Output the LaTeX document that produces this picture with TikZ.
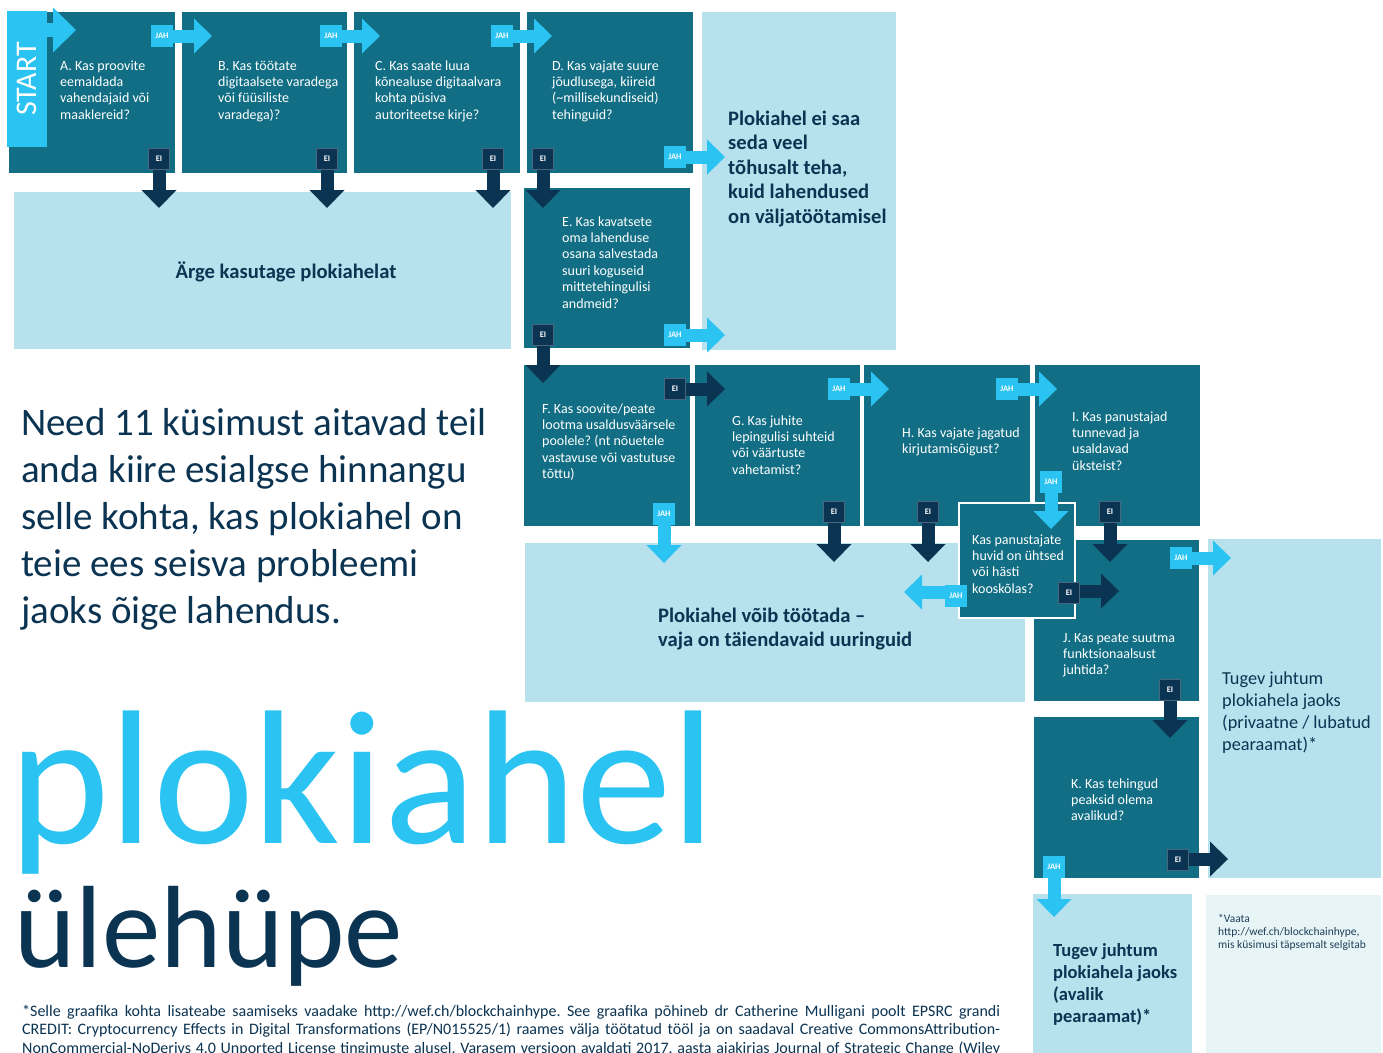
\documentclass[tikz,border=0pt]{standalone}
\usepackage{fontspec}
\setmainfont{Carlito}
\usetikzlibrary{arrows.meta}
\definecolor{cteal}{HTML}{116E84}
\definecolor{clight}{HTML}{B8E1EE}
\definecolor{ccyan}{HTML}{2AC3F2}
\definecolor{cnavy}{HTML}{0B3352}
\definecolor{cpale}{HTML}{E8F5F7}
\newcommand{\qlines}[1]{\parbox[t]{700pt}{\raggedright #1}}
\frenchspacing
\begin{document}
\begin{tikzpicture}[x=1pt,y=-1pt,
  box/.style={anchor=north west, inner sep=0pt, outer sep=0pt},
  qbox/.style={box, fill=cteal},
  obox/.style={box, fill=clight},
  qtext/.style={anchor=base west, inner sep=0pt, text=white, font=\fontsize{14}{16.4}\selectfont},
  otext/.style={anchor=base west, inner sep=0pt, text=cnavy, font=\fontsize{20.6}{24.6}\selectfont\bfseries},
  jah/.style={fill=ccyan, text=white, minimum size=22pt, inner sep=0pt, font=\fontsize{8.5}{9}\selectfont\bfseries},
  ei/.style={fill=cnavy, draw=cnavy!75!white, line width=0.6pt, text=white, minimum size=21pt, inner sep=0pt, font=\fontsize{8.5}{9}\selectfont\bfseries},
  jarr/.style={draw=ccyan, line width=13pt, -{Triangle[width=35pt,length=18pt,line width=0pt]}},
  earr/.style={draw=cnavy, line width=13pt, -{Triangle[width=35pt,length=18pt,line width=0pt]}},
]
\useasboundingbox (0,0) rectangle (1383,1052);
\clip (0,0) rectangle (1383,1052);
\fill[white] (0,0) rectangle (1383,1052);

% ---------- boxes ----------
\node[qbox, minimum width=166pt, minimum height=161pt] (A) at (9,12) {};
\node[qbox, minimum width=165pt, minimum height=161pt] (B) at (182,12) {};
\node[qbox, minimum width=166pt, minimum height=161pt] (C) at (354,12) {};
\node[qbox, minimum width=166pt, minimum height=161pt] (D) at (527,12) {};
\node[obox, minimum width=194pt, minimum height=338pt] (P) at (702,12) {};
\node[obox, minimum width=497pt, minimum height=157pt] (N) at (14,192) {};
\node[qbox, minimum width=166pt, minimum height=160pt] (E) at (524,188) {};
\node[qbox, minimum width=166pt, minimum height=161pt] (F) at (524,365) {};
\node[qbox, minimum width=165pt, minimum height=161pt] (G) at (695,365) {};
\node[qbox, minimum width=166pt, minimum height=161pt] (H) at (864,365) {};
\node[qbox, minimum width=165pt, minimum height=161pt] (I) at (1035,365) {};
\node[obox, minimum width=500pt, minimum height=159pt] (M) at (525,543) {};
\node[qbox, minimum width=165pt, minimum height=161pt] (J) at (1034,540) {};
\node[obox, minimum width=173pt, minimum height=339pt] (R) at (1208,539) {};
\node[qbox, minimum width=165pt, minimum height=161pt] (K) at (1034,717) {};
\node[obox, minimum width=159pt, minimum height=160pt] (U) at (1033,894) {};
\node[box, fill=cpale, minimum width=175pt, minimum height=160pt] (V) at (1206,895) {};
\node[qbox, draw=white, line width=2.5pt, minimum width=116pt, minimum height=115pt] (Q) at (959,503) {};
\node[box, fill=ccyan, minimum width=40pt, minimum height=136pt] (S) at (7,11) {};
\node[rotate=90, inner sep=0pt, text=white, font=\fontsize{30}{30}\selectfont] (St) at (S.center) {START};

% ---------- question texts ----------
\node[qtext] (At) at (60,70) {\qlines{A. Kas proovite\\eemaldada\\vahendajaid või\\maaklereid?}};
\node[qtext] (Bt) at (218,70) {\qlines{B. Kas töötate\\digitaalsete varadega\\või füüsiliste\\varadega)?}};
\node[qtext] (Ct) at (375,70) {\qlines{C. Kas saate luua\\kõnealuse digitaalvara\\kohta püsiva\\autoriteetse kirje?}};
\node[qtext] (Dt) at (552,70) {\qlines{D. Kas vajate suure\\jõudlusega, kiireid\\(\textasciitilde millisekundiseid)\\tehinguid?}};
\node[qtext] (Et) at (562,226) {\qlines{E. Kas kavatsete\\oma lahenduse\\osana salvestada\\suuri koguseid\\mittetehingulisi\\andmeid?}};
\node[qtext] (Ft) at (542,413) {\qlines{F. Kas soovite/peate\\lootma usaldusväärsele\\poolele? (nt nõuetele\\vastavuse või vastutuse\\tõttu)}};
\node[qtext] (Gt) at (732,425) {\qlines{G. Kas juhite\\lepingulisi suhteid\\või väärtuste\\vahetamist?}};
\node[qtext] (Ht) at (902,437) {\qlines{H. Kas vajate jagatud\\kirjutamisõigust?}};
\node[qtext] (It) at (1072,421) {\qlines{I. Kas panustajad\\tunnevad ja\\usaldavad\\üksteist?}};
\node[qtext] (Qt) at (972,544) {\qlines{Kas panustajate\\huvid on ühtsed\\või hästi\\kooskõlas?}};
\node[qtext] (Jt) at (1063,642) {\qlines{J. Kas peate suutma\\funktsionaalsust\\juhtida?}};
\node[qtext] (Kt) at (1071,788) {\qlines{K. Kas tehingud\\peaksid olema\\avalikud?}};

% ---------- outcome texts ----------
\node[otext] (Pt) at (728,125) {\qlines{Plokiahel ei saa\\seda veel\\tõhusalt teha,\\kuid lahendused\\on väljatöötamisel}};
\node[otext, anchor=base] (Nt) at (286,278) {Ärge kasutage plokiahelat};
\node[otext] (Mt) at (658,622) {\qlines{Plokiahel võib töötada –\\vaja on täiendavaid uuringuid}};
\node[otext, font=\fontsize{18.3}{22}\selectfont] (Rt) at (1222,684) {\qlines{Tugev juhtum\\plokiahela jaoks\\(privaatne / lubatud\\pearaamat)*}};
\node[otext, font=\fontsize{18.5}{22.3}\selectfont\bfseries] (Ut) at (1053,956) {\qlines{Tugev juhtum\\plokiahela jaoks\\(avalik\\pearaamat)*}};
\node[otext, font=\fontsize{11.5}{13.3}\selectfont, text=cnavy!85!gray] (Vt) at (1218,922) {\qlines{*Vaata\\http://wef.ch/blockchainhype,\\mis küsimusi täpsemalt selgitab}};

% ---------- left texts ----------
\node[anchor=base west, inner sep=0pt, text=cnavy, font=\fontsize{39}{47}\selectfont] (intro) at (21,435) {\qlines{Need 11 küsimust aitavad teil\\anda kiire esialgse hinnangu\\selle kohta, kas plokiahel on\\teie ees seisva probleemi\\jaoks õige lahendus.}};
\node[anchor=base west, inner sep=0pt, text=ccyan, font=\fontsize{191}{191}\selectfont] (title1) at (9,843) {plokiahel};
\node[anchor=base west, inner sep=0pt, text=cnavy, font=\fontsize{117}{117}\selectfont] (title2) at (14,967) {ülehüpe};
\node[anchor=base west, inner sep=0pt, text=cnavy, font=\fontsize{16}{18.7}\selectfont] (foot) at (22,1016) {\parbox[t]{978pt}{%
\makebox[978pt][s]{*Selle graafika kohta lisateabe saamiseks vaadake http://wef.ch/blockchainhype. See graafika põhineb dr Catherine Mulligani poolt EPSRC grandi}\\
\makebox[978pt][s]{CREDIT: Cryptocurrency Effects in Digital Transformations (EP/N015525/1) raames välja töötatud tööl ja on saadaval Creative CommonsAttribution-}\\
\makebox[978pt][s]{NonCommercial-NoDerivs 4.0 Unported License tingimuste alusel. Varasem versioon avaldati 2017. aasta ajakirjas Journal of Strategic Change (Wiley}}};

% ---------- arrow tips ----------
\coordinate (tS) at (76,30);
\coordinate (tAB) at (212,36);
\coordinate (tBC) at (380,36);
\coordinate (tCD) at (552,36);
\coordinate (tDP) at (725,157);
\coordinate (tEP) at (725,335);
\coordinate (tAN) at (159,208);
\coordinate (tBN) at (327,208);
\coordinate (tCN) at (493,208);
\coordinate (tDE) at (543,208);
\coordinate (tEF) at (543,383);
\coordinate (tFG) at (725,389);
\coordinate (tFM) at (664,563);
\coordinate (tGH) at (889,389);
\coordinate (tGM) at (834,562);
\coordinate (tHI) at (1057,389);
\coordinate (tHM) at (928,562);
\coordinate (tIQ) at (1051,529);
\coordinate (tIJ) at (1110,562);
\coordinate (tQM) at (904,592);
\coordinate (tQJ) at (1119,591);
\coordinate (tJR) at (1231,558);
\coordinate (tJK) at (1170,738);
\coordinate (tKR) at (1228,859);
\coordinate (tKU) at (1054,917);

% ---------- labels ----------
\node[jah] (jA) at (162,36) {JAH};
\node[jah] (jB) at (331,36) {JAH};
\node[jah] (jC) at (502,36) {JAH};
\node[jah] (jD) at (675,157) {JAH};
\node[jah] (jE) at (675,335) {JAH};
\node[ei] (eA) at (159,159) {EI};
\node[ei] (eB) at (327,159) {EI};
\node[ei] (eC) at (493,159) {EI};
\node[ei] (eD) at (543,159) {EI};
\node[ei] (eE) at (543,335) {EI};
\node[ei] (eF) at (675,389) {EI};
\node[jah] (jF) at (664,514) {JAH};
\node[jah] (jG) at (839,389) {JAH};
\node[ei] (eG) at (834,512) {EI};
\node[jah] (jH) at (1007,389) {JAH};
\node[ei] (eH) at (928,512) {EI};
\node[jah] (jI) at (1051,482) {JAH};
\node[ei] (eI) at (1110,512) {EI};
\node[jah] (jQ) at (956,596) {JAH};
\node[ei] (eQ) at (1069,593) {EI};
\node[jah] (jJ) at (1181,558) {JAH};
\node[ei] (eJ) at (1170,690) {EI};
\node[ei] (eK) at (1178,860) {EI};
\node[jah] (jK) at (1054,867) {JAH};

% ---------- connectors ----------
\draw[draw=ccyan, line width=14pt, -{Triangle[width=45pt,length=23pt,line width=0pt]}] (S.east |- tS) -- (tS);
\draw[jarr] (jA.east |- tAB) -- (tAB);
\draw[jarr] (jB.east |- tBC) -- (tBC);
\draw[jarr] (jC.east |- tCD) -- (tCD);
\draw[jarr] (jD.east |- tDP) -- (tDP);
\draw[jarr] (jE.east |- tEP) -- (tEP);
\draw[earr] (eA.south -| tAN) -- (tAN);
\draw[earr] (eB.south -| tBN) -- (tBN);
\draw[earr] (eC.south -| tCN) -- (tCN);
\draw[earr] (eD.south -| tDE) -- (tDE);
\draw[earr] (eE.south -| tEF) -- (tEF);
\draw[earr] (eF.east |- tFG) -- (tFG);
\draw[jarr] (jF.south -| tFM) -- (tFM);
\draw[jarr] (jG.east |- tGH) -- (tGH);
\draw[earr] (eG.south -| tGM) -- (tGM);
\draw[jarr] (jH.east |- tHI) -- (tHI);
\draw[earr] (eH.south -| tHM) -- (tHM);
\draw[jarr] (jI.south -| tIQ) -- (tIQ);
\draw[earr] (eI.south -| tIJ) -- (tIJ);
\draw[jarr] (jQ.west |- tQM) -- (tQM);
\draw[earr] (eQ.east |- tQJ) -- (tQJ);
\draw[jarr] (jJ.east |- tJR) -- (tJR);
\draw[earr] (eJ.south -| tJK) -- (tJK);
\draw[earr] (eK.east |- tKR) -- (tKR);
\draw[jarr] (jK.south -| tKU) -- (tKU);
\end{tikzpicture}
\end{document}
